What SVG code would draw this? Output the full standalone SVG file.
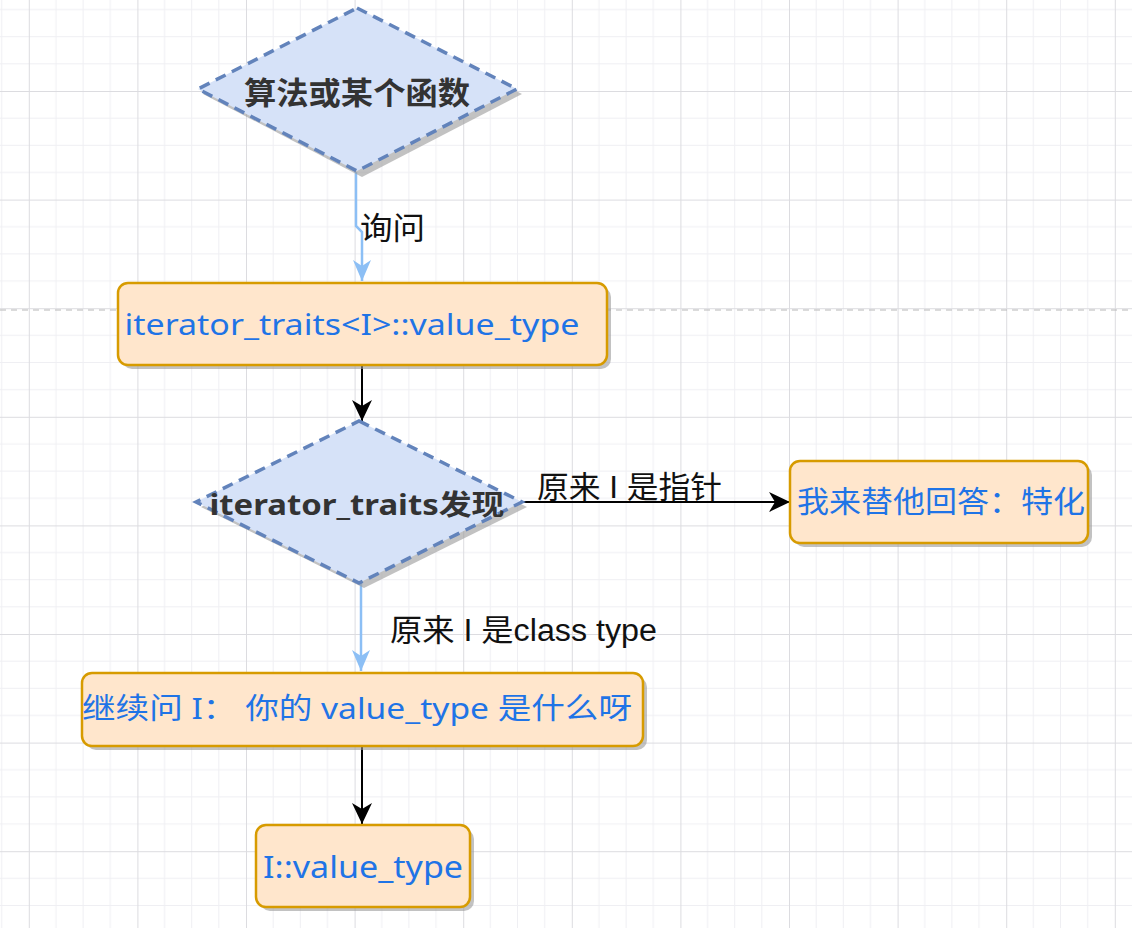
<svg xmlns="http://www.w3.org/2000/svg" width="1132" height="928" viewBox="0 0 1132 928">
  <style>
    .grid-minor { stroke: #efeff3; stroke-width: 1; }
    .grid-major { stroke: #dcdce0; stroke-width: 1; }
    .diamond { fill: #d6e2f8; stroke: #6283bb; stroke-width: 3.5; stroke-dasharray: 11 7; }
    .box { fill: #ffe6cc; stroke: #d79b00; stroke-width: 2.5; }
    .shadow { fill: #9a9a9a; opacity: 0.6; }
    .dtext { font-family: "Noto Sans", "Noto Sans CJK SC", sans-serif; font-weight: bold; fill: #333333; text-anchor: middle; }
    .btext { font-family: "Noto Sans", "Noto Sans CJK SC", sans-serif; fill: #1f74e6; text-anchor: middle; }
    .label { font-family: "Liberation Sans", "Noto Sans CJK SC", sans-serif; fill: #111111; }
    .edge-black { stroke: #000000; stroke-width: 2; fill: none; }
    .edge-blue { stroke: #8cbff5; stroke-width: 2.5; fill: none; }
  </style>
  <defs>
    <pattern id="grid" x="28.8" y="91" width="108.6" height="108.6" patternUnits="userSpaceOnUse">
      <path class="grid-minor" d="M27.15,0 V108.6 M54.3,0 V108.6 M81.45,0 V108.6 M0,27.15 H108.6 M0,54.3 H108.6 M0,81.45 H108.6"/>
      <path class="grid-major" d="M0.5,0 V108.6 M0,0.5 H108.6"/>
    </pattern>
    <marker id="arrBlack" markerUnits="userSpaceOnUse" viewBox="0 0 22 22" markerWidth="22" markerHeight="22" refX="21" refY="11" orient="auto">
      <path d="M0,1 L21,11 L0,21 L6,11 Z" fill="#000000"/>
    </marker>
    <marker id="arrBlue" markerUnits="userSpaceOnUse" viewBox="0 0 22 22" markerWidth="22" markerHeight="22" refX="21" refY="11" orient="auto">
      <path d="M0,2 L21,11 L0,20 L6,11 Z" fill="#8cbff5"/>
    </marker>
  </defs>

  <rect x="0" y="0" width="1132" height="928" fill="#ffffff"/>
  <rect x="0" y="0" width="1132" height="928" fill="url(#grid)"/>
  <line x1="0" y1="310" x2="1132" y2="310" stroke="#b8b8b8" stroke-width="1" stroke-dasharray="6 5"/>

  <g id="connectors">
    <path class="edge-blue" d="M356,172 V226 L362,232 V281" marker-end="url(#arrBlue)"/>
    <text class="label" x="360" y="239" font-size="31" textLength="65" lengthAdjust="spacingAndGlyphs">询问</text>
    <path class="edge-black" d="M362,366 V421" marker-end="url(#arrBlack)"/>
    <path class="edge-black" d="M522,502 H790" marker-end="url(#arrBlack)"/>
    <text class="label" x="537" y="498" font-size="31" textLength="185" lengthAdjust="spacingAndGlyphs">原来 I 是指针</text>
    <path class="edge-blue" d="M361,583 V671" marker-end="url(#arrBlue)"/>
    <text class="label" x="390" y="641" font-size="31" textLength="267" lengthAdjust="spacingAndGlyphs">原来 I 是class type</text>
    <path class="edge-black" d="M362,746 V824" marker-end="url(#arrBlack)"/>
  </g>

  <g id="node-algorithm">
    <polygon class="shadow" points="362,13 522,94 362,177 203,94"/>
    <polygon class="diamond" points="357,8 517,89 357,171 198,89"/>
    <text class="dtext" x="357" y="104" font-size="31" textLength="226" lengthAdjust="spacingAndGlyphs">算法或某个函数</text>
  </g>

  <g id="node-traits-value-type">
    <rect class="shadow" x="122" y="287" width="489" height="82" rx="10"/>
    <rect class="box" x="118" y="283" width="489" height="82" rx="10"/>
    <text class="btext" x="352" y="335" font-size="29" textLength="455" lengthAdjust="spacingAndGlyphs">iterator_traits&lt;I&gt;::value_type</text>
  </g>

  <g id="node-traits-find">
    <polygon class="shadow" points="364,426 527,507 364,588 201,507"/>
    <polygon class="diamond" points="359,421 522,502 359,583 196,502"/>
    <text class="dtext" x="357" y="515" font-size="28" textLength="295" lengthAdjust="spacingAndGlyphs">iterator_traits发现</text>
  </g>

  <g id="node-specialize">
    <rect class="shadow" x="794" y="465" width="298" height="82" rx="10"/>
    <rect class="box" x="790" y="461" width="298" height="82" rx="10"/>
    <text class="btext" x="941" y="512" font-size="30" textLength="288" lengthAdjust="spacingAndGlyphs">我来替他回答：特化</text>
  </g>

  <g id="node-ask-i">
    <rect class="shadow" x="86" y="677" width="561" height="73" rx="10"/>
    <rect class="box" x="82" y="673" width="561" height="73" rx="10"/>
    <text class="btext" x="357" y="719" font-size="29" textLength="550" lengthAdjust="spacingAndGlyphs">继续问 I： 你的 value_type 是什么呀</text>
  </g>

  <g id="node-i-value-type">
    <rect class="shadow" x="260" y="829" width="214" height="82" rx="10"/>
    <rect class="box" x="256" y="825" width="214" height="82" rx="10"/>
    <text class="btext" x="363" y="878" font-size="31" textLength="200" lengthAdjust="spacingAndGlyphs">I::value_type</text>
  </g>
</svg>
